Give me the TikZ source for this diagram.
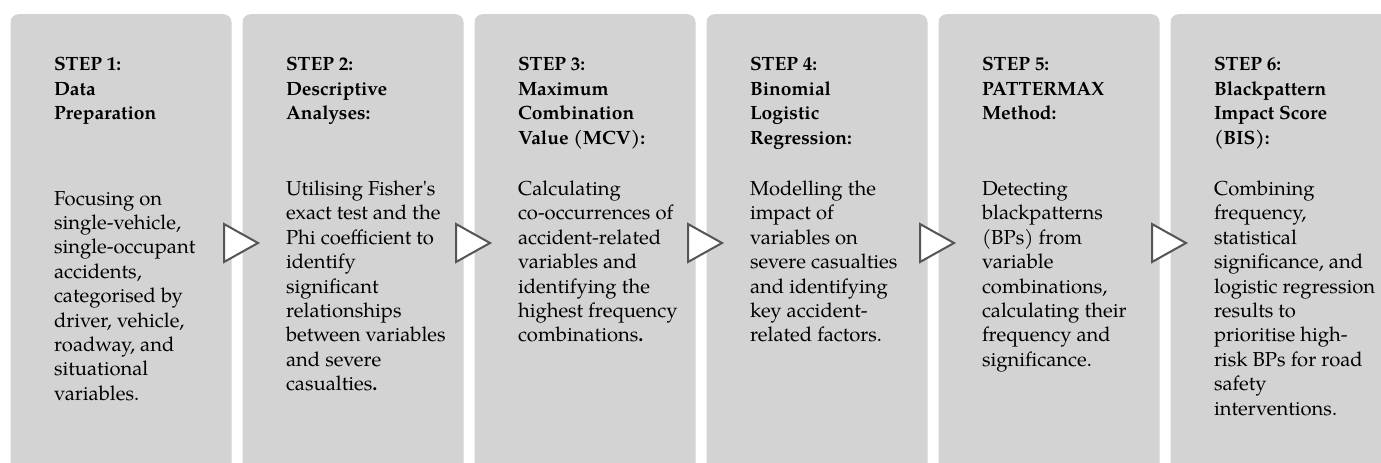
\documentclass[tikz,border=0pt]{standalone}
\usepackage{fontspec}
\setmainfont{texgyrepagella}[Extension=.otf, UprightFont=*-regular, BoldFont=*-bold, ItalicFont=*-italic, BoldItalicFont=*-bolditalic]
\definecolor{boxgray}{HTML}{D3D3D3}
\definecolor{arrowgray}{HTML}{555555}
\tikzset{
  stepbox/.style={fill=boxgray, rounded corners=8pt, draw=none, anchor=north west, minimum width=221pt, minimum height=470pt, inner sep=0pt},
  steptitle/.style={anchor=base west, inner sep=0pt, font=\fontsize{19.2}{24.6}\selectfont\bfseries},
  stepbody/.style={anchor=base west, inner sep=0pt, font=\fontsize{20.2}{24.4}\selectfont},
  steparrow/.style={draw=arrowgray, fill=white, line width=2pt, line join=miter},
}
\newcommand{\steplines}[1]{\begin{tabular}[t]{@{}l@{}}#1\end{tabular}}
\newcommand{\straightquote}{\XeTeXglyph\XeTeXglyphindex "quotesingle"\relax}
\begin{document}
\begin{tikzpicture}[x=1pt,y=-1pt]
\useasboundingbox (0,0) rectangle (1381,463);
\clip (0,0) rectangle (1381,463);
\fill[white] (0,0) rectangle (1381,463);
% boxes
\node[stepbox] (box1) at (10.3,14) {};
\node[stepbox] (box2) at (242.3,14) {};
\node[stepbox] (box3) at (474.3,14) {};
\node[stepbox] (box4) at (706.3,14) {};
\node[stepbox] (box5) at (938.3,14) {};
\node[stepbox] (box6) at (1170.3,14) {};
% arrows
\foreach \i/\x in {1/224,2/456,3/688,4/920,5/1152}{
  \draw[steparrow] (\x,224) -- (\x+34,243) -- (\x,262) -- cycle;
}
% titles
\node[steptitle] (t1) at (53.8,70.5) {\steplines{STEP 1:\\Data\\Preparation}};
\node[steptitle] (t2) at (285.8,70.5) {\steplines{STEP 2:\\Descriptive\\Analyses:}};
\node[steptitle] (t3) at (517.8,70.5) {\steplines{STEP 3:\\Maximum\\Combination\\Value (MCV):}};
\node[steptitle] (t4) at (749.8,70.5) {\steplines{STEP 4:\\Binomial\\Logistic\\Regression:}};
\node[steptitle] (t5) at (981.8,70.5) {\steplines{STEP 5:\\PATTERMAX\\Method:}};
\node[steptitle] (t6) at (1213.8,70.5) {\steplines{STEP 6:\\Blackpattern\\Impact Score\\(BIS):}};
% bodies
\node[stepbody] (b1) at (53.8,205) {\steplines{Focusing on\\single-vehicle,\\single-occupant\\accidents,\\categorised by\\driver, vehicle,\\roadway, and\\situational\\variables.}};
\node[stepbody] (b2) at (285.8,195.5) {\steplines{Utilising Fisher\straightquote s\\exact test and the\\Phi coefficient to\\identify\\significant\\relationships\\between variables\\and severe\\casualties{\bfseries.}}};
\node[stepbody] (b3) at (517.8,195.5) {\steplines{Calculating\\co-occurrences of\\accident-related\\variables and\\identifying the\\highest frequency\\combinations{\bfseries.}}};
\node[stepbody] (b4) at (749.8,195.5) {\steplines{Modelling the\\impact of\\variables on\\severe casualties\\and identifying\\key accident-\\related factors.}};
\node[stepbody] (b5) at (981.8,195.5) {\steplines{Detecting\\blackpatterns\\(BPs) from\\variable\\combinations,\\calculating their\\frequency and\\significance.}};
\node[stepbody] (b6) at (1213.8,195.5) {\steplines{Combining\\frequency,\\statistical\\significance, and\\logistic regression\\results to\\prioritise high-\\risk BPs for road\\safety\\interventions.}};
\end{tikzpicture}
\end{document}
